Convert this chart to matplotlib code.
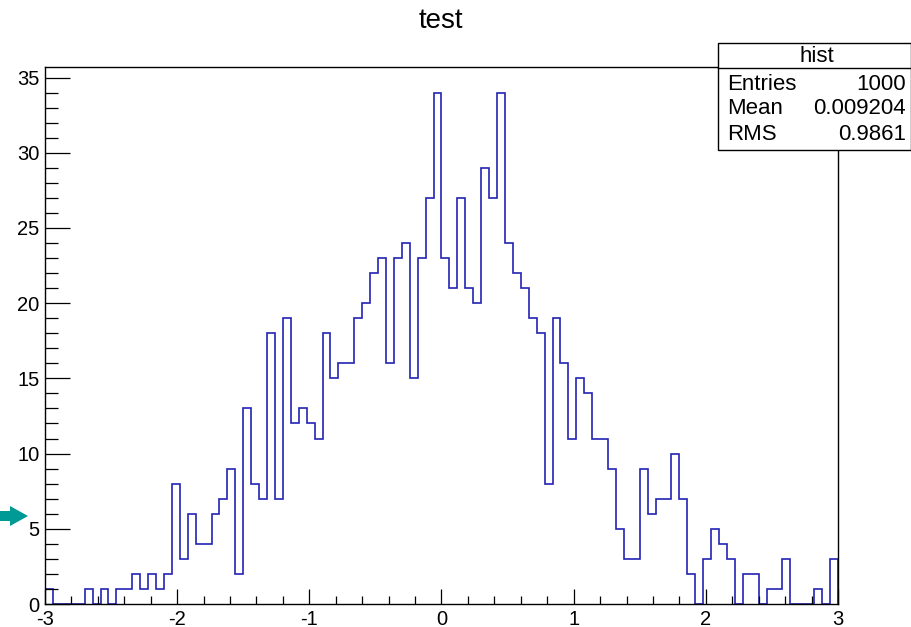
import numpy as np
import matplotlib
matplotlib.use("Agg")
import matplotlib.pyplot as plt
from matplotlib.patches import Rectangle, Polygon
from matplotlib.ticker import MultipleLocator

plt.rcParams['font.family'] = ['Liberation Sans', 'DejaVu Sans']
plt.rcParams['axes.unicode_minus'] = False

# histogram "hist": 100 bins on [-3, 3]
x_min, x_max, n_bins = -3.0, 3.0, 100
counts = [1, 0, 0, 0, 0, 1, 0, 1, 0, 1,
          1, 2, 1, 2, 1, 2, 8, 3, 6, 4,
          4, 6, 7, 9, 2, 13, 8, 7, 18, 7,
          19, 12, 13, 12, 11, 18, 15, 16, 16, 19,
          20, 22, 23, 16, 23, 24, 15, 23, 27, 34,
          23, 21, 27, 21, 20, 29, 27, 34, 24, 22,
          21, 19, 18, 8, 19, 16, 11, 15, 14, 11,
          11, 9, 5, 3, 3, 9, 6, 7, 7, 10,
          7, 2, 0, 3, 5, 4, 3, 0, 2, 2,
          0, 1, 1, 3, 0, 0, 0, 1, 0, 3]

title = "test"
stats_name = "hist"
stats_labels = ["Entries", "Mean", "RMS"]
stats_values = ["1000", "0.009204", "0.9861"]

W, H = 912, 627
fig = plt.figure(figsize=(W / 100, H / 100), dpi=100)

def fx(px):
    return px / W

def fy(py):
    return 1 - py / H

# frame in pixels: left 45, right 838, top 67, bottom 604
ax = fig.add_axes([fx(45), fy(604), fx(838) - fx(45), fy(67) - fy(604)])

edges = np.linspace(x_min, x_max, n_bins + 1)
ax.stairs(counts, edges, color='#2222b4', linewidth=1.2)

ax.set_xlim(x_min, x_max)
ax.set_ylim(0, max(counts) * 1.05)

ax.xaxis.set_major_locator(MultipleLocator(1))
ax.xaxis.set_minor_locator(MultipleLocator(0.2))
ax.yaxis.set_major_locator(MultipleLocator(5))
ax.yaxis.set_minor_locator(MultipleLocator(1))

for s in ax.spines.values():
    s.set_linewidth(1.0)
    s.set_color('black')

ax.tick_params(axis='x', which='major', direction='in', length=11, width=0.9,
               labelsize=14.5, pad=4)
ax.tick_params(axis='x', which='minor', direction='in', length=5.5, width=0.9)
ax.tick_params(axis='y', which='major', direction='in', length=18, width=0.9,
               labelsize=14.5, pad=4)
ax.tick_params(axis='y', which='minor', direction='in', length=9, width=0.9)
ax.tick_params(top=False, right=False, which='both')

fig.text(fx(441), fy(21), title, ha='center', va='center', fontsize=20)

# stats box
bx0, bx1, by0, by1, bsep = 718, 911, 43, 150, 68
fig.patches.append(Rectangle((fx(bx0), fy(by1)), fx(bx1) - fx(bx0), fy(by0) - fy(by1),
                             transform=fig.transFigure, facecolor='white',
                             edgecolor='black', linewidth=1.0, zorder=5))
fig.lines.append(plt.Line2D([fx(bx0), fx(bx1)], [fy(bsep), fy(bsep)],
                            transform=fig.transFigure, color='black',
                            linewidth=1.0, zorder=6))
fig.text(fx(817), fy(56), stats_name, ha='center', va='center', fontsize=16, zorder=7)
row_y = [84, 109, 134]
for lab, val, ry in zip(stats_labels, stats_values, row_y):
    fig.text(fx(727), fy(ry), lab, ha='left', va='center', fontsize=16, zorder=7)
    fig.text(fx(906), fy(ry), val, ha='right', va='center', fontsize=16, zorder=7)

# teal marker arrow at the left edge
arrow_px = [(0, 511), (10, 511), (10, 506), (28, 516), (10, 526), (10, 521), (0, 521)]
fig.patches.append(Polygon([(fx(px), fy(py)) for px, py in arrow_px],
                           closed=True, transform=fig.transFigure,
                           facecolor='#009a96', edgecolor='none'))

fig.savefig("out.png", dpi=100)
